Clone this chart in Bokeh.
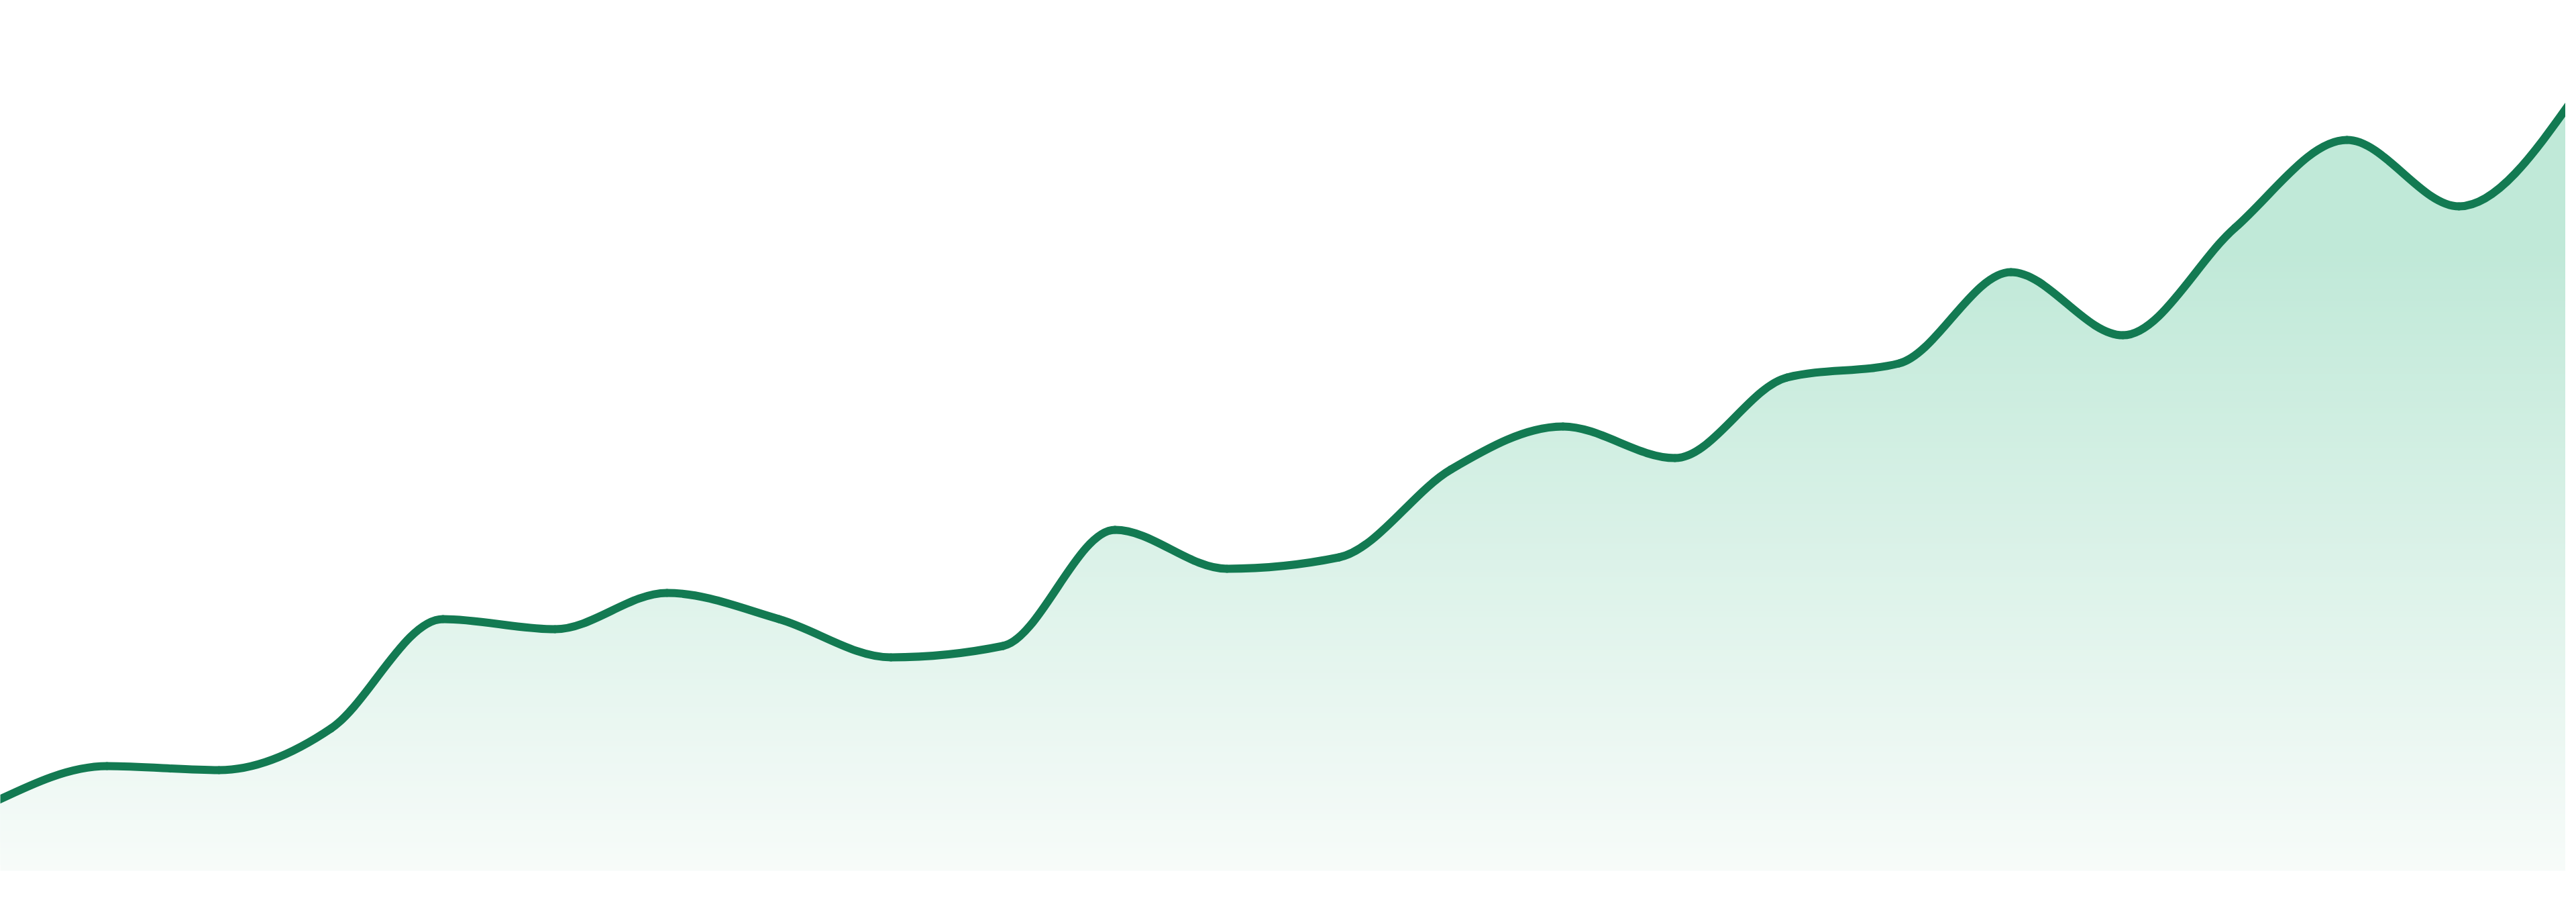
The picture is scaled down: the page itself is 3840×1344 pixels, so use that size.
import numpy as np
from bokeh.plotting import figure
from bokeh.models import Range1d
from bokeh.embed import file_html
from bokeh.resources import INLINE

# ---- data ----
index = list(range(24))
values = [10.3, 15.6, 15.0, 21.2, 37.5, 36.0, 41.4, 37.5, 31.8, 33.5, 50.8, 45.0,
          46.7, 59.8, 66.2, 61.5, 73.5, 75.6, 89.2, 79.8, 95.8, 108.9, 99.0, 114.6]

LINE_COLOR = "#137a52"
FILL_TOP = (192, 233, 216)
FILL_BOTTOM = (247, 251, 249)

W, H = 3824, 1328
n = len(index)
px_per_x = 3840 / (n - 1)
px_per_y = 10.0
x0r = 8 / px_per_x
x1r = x0r + W / px_per_x
y1r = (1305 - 8) / px_per_y
y0r = y1r - H / px_per_y

p = figure(width=W, height=H, output_backend="svg", toolbar_location=None,
           x_range=Range1d(x0r, x1r), y_range=Range1d(y0r, y1r),
           x_axis_location=None, y_axis_location=None, min_border=0)
p.outline_line_color = None
p.xgrid.grid_line_color = None
p.ygrid.grid_line_color = None
p.background_fill_color = "white"
p.border_fill_color = "white"

x = np.array(index, dtype=float)
y = np.array(values, dtype=float)

# monotone-x tangents (d3 curveMonotoneX)
h = np.diff(x)
s = np.diff(y) / h
t = np.zeros(n)
for i in range(1, n - 1):
    s0, s1 = s[i - 1], s[i]
    pp = (s0 * h[i] + s1 * h[i - 1]) / (h[i - 1] + h[i])
    t[i] = (np.sign(s0) + np.sign(s1)) * min(abs(s0), abs(s1), 0.5 * abs(pp))
t[0] = (3 * s[0] - t[1]) / 2
t[-1] = (3 * s[-1] - t[-2]) / 2

dx = h / 3
bx0, by0 = x[:-1], y[:-1]
bx1, by1 = x[1:], y[1:]
cx0, cy0 = bx0 + dx, by0 + dx * t[:-1]
cx1, cy1 = bx1 - dx, by1 - dx * t[1:]

# outline of the smooth curve for the filled area
u = np.linspace(0, 1, 40)[:, None]
cxs = ((1 - u) ** 3 * bx0 + 3 * (1 - u) ** 2 * u * cx0 + 3 * (1 - u) * u ** 2 * cx1 + u ** 3 * bx1).T.ravel()
cys = ((1 - u) ** 3 * by0 + 3 * (1 - u) ** 2 * u * cy0 + 3 * (1 - u) * u ** 2 * cy1 + u ** 3 * by1).T.ravel()

# vertical gradient under the curve: overlapping bands, bottom to top
g_top = (1305 - 380) / px_per_y
top_all = float(cys.max())
nb = 110
for k in range(nb):
    b = g_top * k / nb
    if b >= top_all:
        break
    f = k / (nb - 1)
    c = tuple(int(round(FILL_BOTTOM[j] + (FILL_TOP[j] - FILL_BOTTOM[j]) * f)) for j in range(3))
    p.varea(x=cxs, y1=np.full_like(cys, b), y2=np.maximum(cys, b),
            fill_color="#%02x%02x%02x" % c)

# the smooth line
p.bezier(x0=bx0, y0=by0, x1=bx1, y1=by1, cx0=cx0, cy0=cy0, cx1=cx1, cy1=cy1,
         line_color=LINE_COLOR, line_width=12, line_cap="round")

open("out.html", "w").write(file_html(p, INLINE))
